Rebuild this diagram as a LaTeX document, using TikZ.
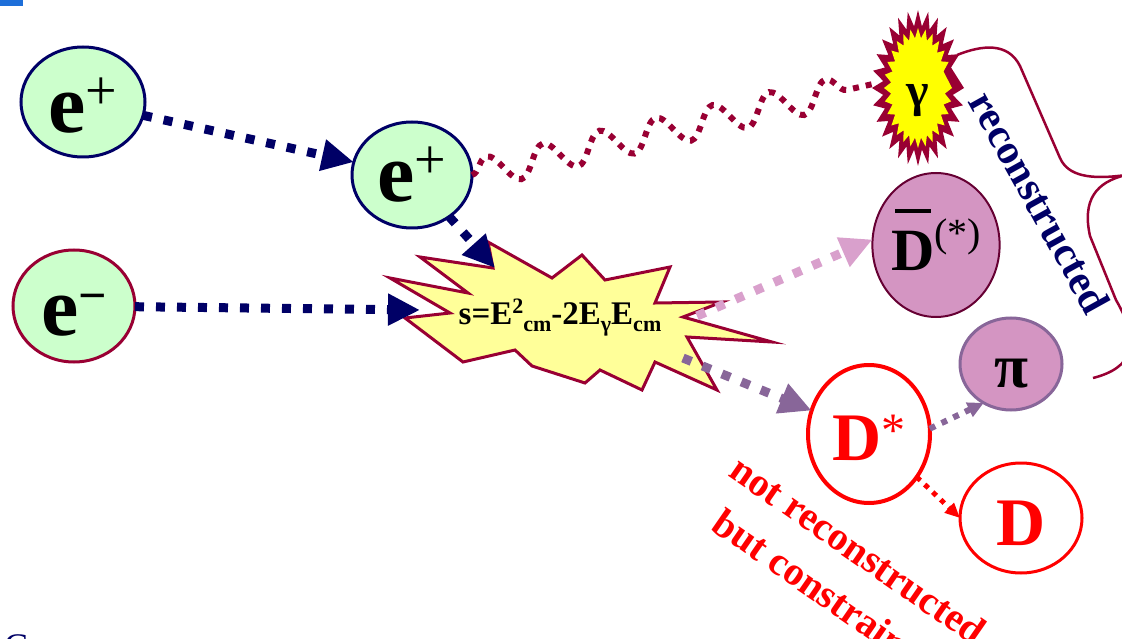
\documentclass[tikz,border=0pt]{standalone}
\usepackage{fontspec}
\setmainfont{Liberation Serif}
\usetikzlibrary{shapes.geometric,arrows.meta,decorations.pathmorphing}
\definecolor{navy}{HTML}{000066}
\definecolor{lgreen}{HTML}{CCFFCC}
\definecolor{dred}{HTML}{990033}
\definecolor{dmaroon}{HTML}{660033}
\definecolor{byellow}{HTML}{FFFF99}
\definecolor{syellow}{HTML}{FFFF00}
\definecolor{pinkf}{HTML}{D495C2}
\definecolor{pinka}{HTML}{D9A0CC}
\definecolor{purpa}{HTML}{886699}
\definecolor{topblue}{HTML}{1E6FD9}
\newcommand\myfs[1]{\fontsize{#1}{#1}\selectfont}
\newcommand\myraise[3]{\raisebox{#2}{\fontsize{#1}{#1}\selectfont #3}}
\begin{document}
\begin{tikzpicture}[x=1pt,y=-1pt,
  blob/.style={ellipse, inner sep=0pt, outer sep=0pt, text depth=0pt},
  bigarrow/.style={line width=9pt, dash pattern=on 9pt off 12pt, -{Triangle[length=32pt,width=30pt]}},
  smallarrow/.style={line width=6pt, dash pattern=on 6pt off 7pt, -{Triangle[length=16pt,width=15pt]}},
  redarrow/.style={line width=5pt, dash pattern=on 5pt off 6pt, -{Triangle[length=15pt,width=13pt]}},
  photon/.style={draw=dred, line width=6pt, dash pattern=on 6pt off 7pt, decorate, decoration={snake, segment length=58pt, amplitude=15pt}}
]
\useasboundingbox (0,0) rectangle (1122,639);
\clip (0,0) rectangle (1122,639);

% top-left blue mark
\fill[topblue] (0,0) rectangle (23,6);

% burst
\draw[dred, line width=3pt, fill=byellow, line join=miter]
 (390,278) -- (468,293) -- (420,257) -- (493,268) -- (488,242) -- (552,278) -- (582,255)
 -- (605,280) -- (670,267) -- (655,303) -- (722,302) -- (683,317) -- (772,342) -- (687,337)
 -- (717,390) -- (655,362) -- (642,390) -- (600,370) -- (585,383) -- (532,366) -- (515,350)
 -- (463,362) -- (405,318) -- (450,313) -- cycle;
\node (burst) at (560,318) {\myfs{33}\bfseries s=E\myraise{22}{11pt}{2}\myraise{22}{-7pt}{cm}-2E\myraise{22}{-7pt}{γ}E\myraise{22}{-7pt}{cm}};

% nodes
\node[blob, draw=navy, line width=3pt, fill=lgreen, minimum width=124pt, minimum height=110pt, text height=62pt] (ep1) at (83,102) {\myfs{84}\bfseries e\myraise{56}{23pt}{\mdseries +}};
\node[blob, draw=navy, line width=3pt, fill=lgreen, minimum width=120pt, minimum height=106pt, text height=54pt] (ep2) at (412,175) {\myfs{84}\bfseries e\myraise{56}{23pt}{\mdseries +}};
\node[blob, draw=dred, line width=3pt, fill=lgreen, minimum width=122pt, minimum height=112pt, text height=58pt] (em) at (74,306) {\myfs{84}\bfseries e\myraise{50}{23pt}{−}};
\node[blob, draw=dmaroon, line width=2pt, fill=pinkf, minimum width=122pt, minimum height=144pt, text height=50pt] (Dbar) at (936,245) {\myfs{60}\bfseries \rlap{\raisebox{57pt}{\kern4pt\rule{36pt}{4pt}}}D\myraise{40}{24pt}{\mdseries (*)}};
\node[blob, draw=red, line width=4pt, fill=white, minimum width=122pt, minimum height=138pt, text height=52pt, text=red] (Dstar) at (869,434) {\myfs{68}\bfseries D\myraise{48}{14pt}{\mdseries *}};
\node[blob, draw=red, line width=3pt, fill=white, minimum width=122pt, minimum height=110pt, text height=54pt, text=red] (D) at (1021,518) {\myfs{68}\bfseries D};
\node[blob, draw=purpa, line width=3pt, fill=pinkf, minimum width=102pt, minimum height=92pt, text height=46pt] (pi) at (1011,364) {\myfs{62}\bfseries π};

% photon
\coordinate (gw) at (873,84);
\draw[photon] (ep2.east) -- (gw);

% gamma star
\fill[dred] (964,88) \foreach \a in {0,12.857,...,347} { -- ({918+46*cos(\a)}, {88+78*sin(\a)}) -- ({918+35*cos(\a+6.4286)}, {88+62*sin(\a+6.4286)}) } -- cycle;
\fill[syellow] (952,88) \foreach \a in {0,12.857,...,347} { -- ({918+34*cos(\a)}, {88+60*sin(\a)}) -- ({918+27*cos(\a+6.4286)}, {88+50*sin(\a+6.4286)}) } -- cycle;
\node[blob, minimum width=90pt, minimum height=154pt, text height=38pt] (gamma) at (918,88) {\myfs{48}\bfseries γ};

% brace
\draw[dred, line width=2.5pt] (957,55) .. controls (982,45) and (1008,42) .. (1020,66) -- (1060,158)
  .. controls (1068,176) and (1090,180) .. (1126,175)
  .. controls (1096,182) and (1082,200) .. (1090,236) -- (1116,300)
  .. controls (1142,345) and (1132,368) .. (1093,378);

% arrows
\coordinate (b1) at (420,310);
\coordinate (b2) at (495,268);
\coordinate (b3) at (697,316);
\coordinate (b4) at (683,358);
\draw[navy, bigarrow] (ep1) -- (ep2);
\draw[navy, bigarrow] (em) -- (b1);
\draw[navy, bigarrow] (ep2) -- (b2);
\draw[pinka, bigarrow] (b3) -- (Dbar.175);
\draw[purpa, bigarrow] (b4) -- (Dstar);
\draw[purpa, smallarrow] (Dstar.5) -- (pi.235);
\draw[red, redarrow] (Dstar.-42) -- (D.west);

% labels
\node[text=navy, rotate=-61, font=\myfs{42}\bfseries] (rec) at (1040,202) {reconstructed};
\node[text=red, rotate=-34.7, align=center, font=\fontsize{40}{54}\selectfont\bfseries] (nrc) at (843,572) {not reconstructed\\but constrained};
\node[anchor=base west, text=navy, font=\myfs{36}, inner sep=0pt] (C) at (4,658) {C};
\end{tikzpicture}
\end{document}
